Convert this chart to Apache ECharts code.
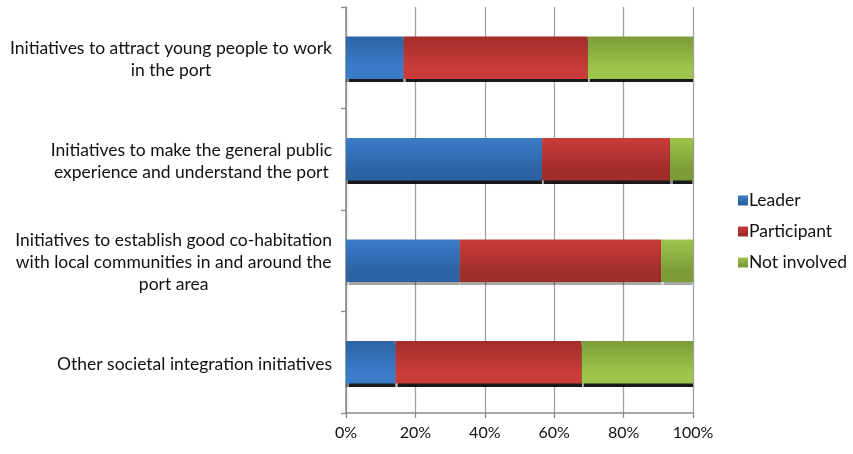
<!DOCTYPE html>
<html>
<head>
<meta charset="utf-8">
<script src="https://cdn.jsdelivr.net/npm/echarts@6/dist/echarts.min.js"></script>
<style>
  html, body { margin: 0; padding: 0; background: #fff; }
  #chart { width: 853px; height: 454px; }
</style>
</head>
<body>
<div id="chart"></div>
<script>
// Societal integration initiatives: share of respondents by role (100% stacked)
const categories = [
  'Initiatives to attract young people to work\nin the port',
  'Initiatives to make the general public\nexperience and understand the port',
  'Initiatives to establish good co-habitation\nwith local communities in and around the\nport area',
  'Other societal integration initiatives'
];
const seriesNames = ['Leader', 'Participant', 'Not involved'];
const leader      = [16.6, 56.5, 32.8, 14.3];
const participant = [53.1, 36.9, 58.0, 53.6];
const notInvolved = [30.3,  6.6,  9.2, 32.1];
const tickValues  = [0, 20, 40, 60, 80, 100];

const FONT = 'Lato, "Open Sans", sans-serif';

// light / dark shades per series
const shades = [
  { light: '#3b7cc9', dark: '#2d63a4' },
  { light: '#ca3c3a', dark: '#a12d2b' },
  { light: '#9dc54b', dark: '#7b9c38' }
];
// gradient direction for each bar row: true = dark at top
const darkTop = [true, false, false, true];

function grad(s, topDark) {
  const a = topDark ? s.dark : s.light;
  const b = topDark ? s.light : s.dark;
  return new echarts.graphic.LinearGradient(0, 0, 0, 1, [
    { offset: 0, color: a },
    { offset: 0.75, color: b },
    { offset: 1, color: b }
  ]);
}

const values = [leader, participant, notInvolved];

const series = seriesNames.map((name, si) => ({
  name: name,
  type: 'bar',
  stack: 'total',
  barWidth: '42%',
  itemStyle: {
    color: grad(shades[si], false),
    shadowColor: 'rgba(0,0,0,0.9)',
    shadowBlur: 1,
    shadowOffsetY: 3
  },
  data: values[si].map((v, ci) => ({
    value: v,
    itemStyle: {
      color: grad(shades[si], darkTop[ci]),
      shadowColor: ci === 2 ? 'rgba(0,0,0,0.35)' : 'rgba(0,0,0,0.9)'
    }
  }))
}));

const chart = echarts.init(document.getElementById('chart'), null, { renderer: 'canvas' });
chart.setOption({
  animation: false,
  backgroundColor: '#ffffff',
  textStyle: { fontFamily: FONT },
  grid: { left: 346, right: 160, top: 7, bottom: 41, containLabel: false },
  legend: {
    orient: 'vertical',
    left: 733,
    top: 185,
    icon: 'rect',
    itemWidth: 10,
    itemHeight: 10,
    itemGap: 10,
    textStyle: { fontSize: 17.5, color: '#111', fontFamily: FONT, lineHeight: 21, padding: [0, 0, 0, -4] },
    data: seriesNames
  },
  xAxis: {
    type: 'value',
    min: 0,
    max: 100,
    interval: 20,
    axisLine: { show: true, lineStyle: { color: '#8a8a8a', width: 1.5 } },
    axisTick: { show: true, length: 5, lineStyle: { color: '#8a8a8a', width: 1.3 } },
    splitLine: { show: true, lineStyle: { color: '#a0a0a0', width: 1.3 } },
    axisLabel: {
      margin: 12,
      fontSize: 16,
      color: '#111',
      fontFamily: FONT,
      formatter: v => tickValues.includes(v) ? v + '%' : ''
    }
  },
  yAxis: {
    type: 'category',
    inverse: true,
    data: categories,
    axisLine: { show: true, lineStyle: { color: '#8a8a8a', width: 1.5 } },
    axisTick: { show: true, length: 5, lineStyle: { color: '#8a8a8a', width: 1.3 } },
    axisLabel: {
      margin: 14,
      align: 'right',
      color: '#111',
      padding: [4, 0, 0, 0],
      formatter: v => v.split('\n').map(l => '{c|' + l + '}').join('\n'),
      rich: {
        c: { align: 'center', fontSize: 17.5, lineHeight: 22, color: '#111', fontFamily: FONT }
      }
    }
  },
  series: series
});
</script>
</body>
</html>
